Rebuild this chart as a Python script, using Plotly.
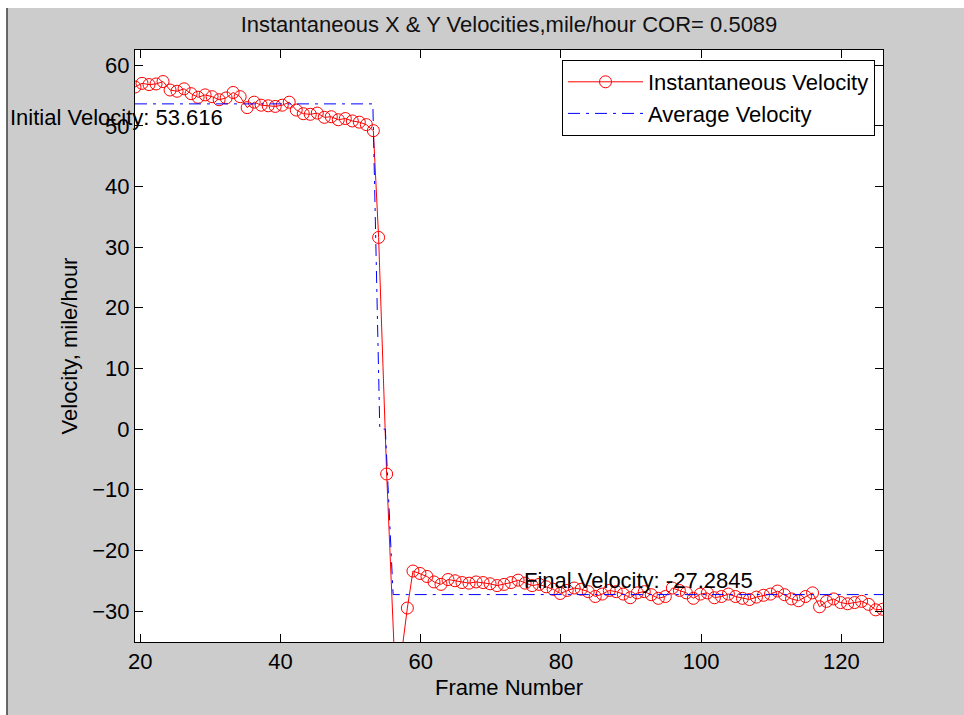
import plotly.graph_objects as go

# ---------------- data ----------------
frames_before = [19.25, 20.25, 21.25, 22.25, 23.25, 24.25, 25.25, 26.25, 27.25, 28.25,
                 29.25, 30.25, 31.25, 32.25, 33.25, 34.25, 35.25, 36.25, 37.25, 38.25,
                 39.25, 40.25, 41.25, 42.25, 43.25, 44.25, 45.25, 46.25, 47.25, 48.25,
                 49.25, 50.25, 51.25, 52.25, 53.25]
vel_before = [56.4, 57.0, 56.8, 56.9, 57.3, 55.9, 55.7, 56.1, 55.3, 54.7,
              55.1, 54.8, 54.3, 54.6, 55.5, 54.8, 53.0, 53.9, 53.4, 53.3,
              53.2, 53.4, 53.9, 52.6, 52.0, 51.9, 52.1, 51.4, 51.5, 51.0,
              51.2, 50.8, 50.6, 50.2, 49.2]

frames_impact = [54.0, 55.15, 56.5, 58.1]
vel_impact = [31.6, -7.4, -44.0, -29.5]

frames_after = [58.9, 59.9, 60.9, 61.9, 62.9, 63.9, 64.9, 65.9, 66.9, 67.9,
                68.9, 69.9, 70.9, 71.9, 72.9, 73.9, 74.9, 75.9, 76.9, 77.9,
                78.9, 79.9, 80.9, 81.9, 82.9, 83.9, 84.9, 85.9, 86.9, 87.9,
                88.9, 89.9, 90.9, 91.9, 92.9, 93.9, 94.9, 95.9, 96.9, 97.9,
                98.9, 99.9, 100.9, 101.9, 102.9, 103.9, 104.9, 105.9, 106.9, 107.9,
                108.9, 109.9, 110.9, 111.9, 112.9, 113.9, 114.9, 115.9, 116.9, 117.9,
                118.9, 119.9, 120.9, 121.9, 122.9, 123.9, 124.9, 125.9]
vel_after = [-23.4, -23.8, -24.3, -25.2, -25.6, -24.8, -25.0, -25.3, -25.4, -25.2,
             -25.3, -25.5, -25.8, -25.6, -25.3, -24.9, -25.4, -25.8, -25.6, -26.0,
             -26.4, -27.1, -26.6, -26.2, -26.4, -26.8, -27.6, -27.2, -26.6, -26.8,
             -27.2, -27.8, -27.0, -26.8, -27.3, -27.9, -27.6, -26.2, -26.6, -27.0,
             -27.9, -27.2, -27.0, -27.8, -27.6, -27.2, -27.6, -27.9, -28.1, -27.7,
             -27.4, -27.2, -26.7, -27.3, -28.0, -28.3, -27.6, -27.0, -29.3, -28.4,
             -28.0, -28.6, -28.8, -28.6, -28.4, -28.9, -29.8, -29.7]

initial_velocity = 53.616
final_velocity = -27.2845
cor = 0.5089

avg_frames = [19.25, 53.18, 54.17, 54.96, 56.07, 125.95]
avg_vel = [initial_velocity, initial_velocity, 0.0, 0.0, final_velocity, final_velocity]

x_range = [19.25, 125.95]
y_range = [-35.1, 62.5]
x_ticks = [20, 40, 60, 80, 100, 120]
y_ticks = [-30, -20, -10, 0, 10, 20, 30, 40, 50, 60]

initial_label_pos = (1.1, 51.4)
final_label_pos = (74.4, -24.9)

# ---------------- layout geometry ----------------
W, H = 964, 715
PL, PR, PT, PB = 135, 883, 50, 642
PW, PH = PR - PL, PB - PT


def px_x(p):
    return (p - PL) / PW


def px_y(p):
    return (PB - p) / PH


FONT = "Liberation Sans, Arial, sans-serif"
FS = 22

fig = go.Figure()

fig.add_trace(go.Scatter(
    x=frames_before + frames_impact + frames_after,
    y=vel_before + vel_impact + vel_after,
    mode="lines+markers",
    name="Instantaneous Velocity",
    line=dict(color="#ff0000", width=1),
    marker=dict(symbol="circle-open", size=12, color="#ff0000", line=dict(width=1)),
))

fig.add_trace(go.Scatter(
    x=avg_frames,
    y=avg_vel,
    mode="lines",
    name="Average Velocity",
    line=dict(color="#0000ff", width=1, dash="12px,6px,3px,6px"),
))

annotations = [
    dict(xref="paper", yref="y",
         x=(initial_label_pos[0] - x_range[0]) / (x_range[1] - x_range[0]),
         y=initial_label_pos[1],
         text=f"Initial Velocity: {initial_velocity:g}", showarrow=False,
         xanchor="left", yanchor="middle",
         font=dict(family=FONT, size=FS, color="black")),
    dict(xref="x", yref="y", x=final_label_pos[0], y=final_label_pos[1],
         text=f"Final Velocity: {final_velocity:g}", showarrow=False,
         xanchor="left", yanchor="middle",
         font=dict(family=FONT, size=FS, color="black")),
]

shapes = [
    dict(type="rect", xref="paper", yref="paper",
         x0=px_x(0), x1=px_x(6.5), y0=px_y(W), y1=px_y(0),
         fillcolor="white", line=dict(width=0), layer="above"),
    dict(type="rect", xref="paper", yref="paper",
         x0=px_x(0), x1=px_x(W), y0=px_y(8), y1=px_y(0),
         fillcolor="white", line=dict(width=0), layer="above"),
    dict(type="line", xref="paper", yref="paper",
         x0=px_x(7), x1=px_x(7), y0=px_y(H + 5), y1=px_y(8),
         line=dict(color="#404040", width=1.5), layer="above"),
]

fig.update_layout(
    width=W, height=H,
    margin=dict(l=PL, r=W - PR, t=PT, b=H - PB, pad=0),
    paper_bgcolor="#cccccc",
    plot_bgcolor="white",
    font=dict(family=FONT, size=FS, color="black"),
    title=dict(text=f"Instantaneous X &amp; Y Velocities,mile/hour COR= {cor:g}",
               x=0.5, xref="paper", xanchor="center",
               y=1 - 24 / H, yref="container", yanchor="middle",
               font=dict(family=FONT, size=FS, color="#111111")),
    showlegend=True,
    legend=dict(x=px_x(875), y=px_y(60), xanchor="right", yanchor="top",
                bgcolor="white", bordercolor="black", borderwidth=1,
                font=dict(family=FONT, size=FS, color="black"),
                itemwidth=75, tracegroupgap=0),
    annotations=annotations,
    shapes=shapes,
)

fig.update_xaxes(range=x_range, tickvals=x_ticks, ticks="inside", ticklen=8,
                 tickcolor="black", showline=True, linecolor="black", linewidth=1,
                 mirror="ticks", showgrid=False, zeroline=False,
                 tickfont=dict(family=FONT, size=FS, color="black"),
                 title=dict(text="Frame Number", standoff=6,
                            font=dict(family=FONT, size=FS, color="black")))
fig.update_yaxes(range=y_range, tickvals=y_ticks, ticks="inside", ticklen=8,
                 tickcolor="black", showline=True, linecolor="black", linewidth=1,
                 mirror="ticks", showgrid=False, zeroline=False,
                 tickfont=dict(family=FONT, size=FS, color="black"),
                 title=dict(text="Velocity, mile/hour", standoff=8,
                            font=dict(family=FONT, size=FS, color="black")))

fig.write_html("out.html")
